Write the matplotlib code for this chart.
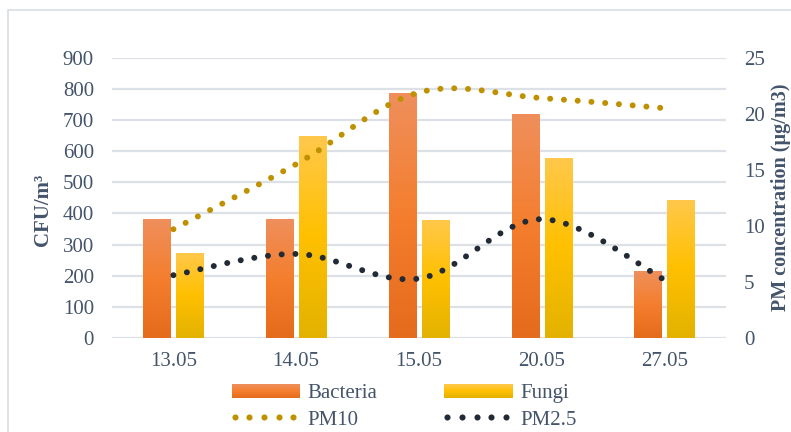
import numpy as np
import matplotlib
matplotlib.use("Agg")
import matplotlib.pyplot as plt
from matplotlib.colors import LinearSegmentedColormap
from matplotlib.patches import Rectangle, Circle
from matplotlib.lines import Line2D
from matplotlib.legend_handler import HandlerBase

# ---- data ----
dates = ["13.05", "14.05", "15.05", "20.05", "27.05"]
bacteria = [382, 382, 786, 720, 215]
fungi = [273, 649, 379, 579, 444]
pm10 = [9.7, 15.5, 21.9, 21.4, 20.5]
pm25 = [5.6, 7.5, 5.3, 10.6, 5.2]

TEXT = "#44546A"
GRID = "#DCE1E8"
FONT = "Liberation Serif"
plt.rcParams["font.family"] = [FONT, "DejaVu Serif"]

W, H = 791, 432
fig = plt.figure(figsize=(W / 100, H / 100), dpi=100)

# light frame around the chart area
fig.patches.append(Rectangle((8 / W, -0.1), 1.0, (H - 10) / H + 0.1,
                             transform=fig.transFigure, fill=False,
                             edgecolor="#D9DDE3", linewidth=1.2))

x0, x1, y_top, y_bot = 112, 725.7, 57.7, 338
ax = fig.add_axes([x0 / W, (H - y_bot) / H, (x1 - x0) / W, (y_bot - y_top) / H])
ax2 = ax.twinx()

bac_cmap = LinearSegmentedColormap.from_list(
    "bac", ["#E56B1C", "#F47E2E", "#EF8F5C"])
fun_cmap = LinearSegmentedColormap.from_list(
    "fun", ["#E3B200", "#FFC000", "#FFC84C"])

x = np.arange(len(dates))
bw, gap = 0.22, 0.049
bars_b = ax.bar(x - (bw + gap) / 2, bacteria, bw, color="none", linewidth=0)
bars_f = ax.bar(x + (bw + gap) / 2, fungi, bw, color="none", linewidth=0)

grad = np.linspace(0, 1, 256).reshape(-1, 1)
for bars, cmap in ((bars_b, bac_cmap), (bars_f, fun_cmap)):
    for p in bars:
        bx, by = p.get_x(), p.get_y()
        w, h = p.get_width(), p.get_height()
        im = ax.imshow(grad, extent=[bx, bx + w, by, by + h], origin="lower",
                       aspect="auto", cmap=cmap, zorder=2)
        im.set_clip_path(p)

ax.set_xlim(-0.5, len(dates) - 0.5)
ax.set_ylim(0, 900)
ax.set_yticks(range(0, 901, 100))
ax.set_xticks(x)
ax.set_xticklabels(dates)
ax.grid(axis="y", color=GRID, linewidth=1.6, zorder=0)
ax.set_axisbelow(True)
for sp in ax.spines.values():
    sp.set_visible(False)
for sp in ax2.spines.values():
    sp.set_visible(False)
ax.tick_params(axis="both", length=0, labelsize=15, labelcolor=TEXT)
ax.tick_params(axis="x", pad=10)
ax.tick_params(axis="y", pad=13)


def smooth(xs, ys, n=40):
    """Catmull-Rom style curve through the points (like a smoothed line)."""
    pts = np.column_stack([xs, ys]).astype(float)
    ext = np.vstack([pts[0], pts, pts[-1]])
    out = []
    for i in range(1, len(ext) - 2):
        p0, p1, p2, p3 = ext[i - 1], ext[i], ext[i + 1], ext[i + 2]
        c1 = p1 + (p2 - p0) / 6
        c2 = p2 - (p3 - p1) / 6
        t = np.linspace(0, 1, n)[:, None]
        seg = ((1 - t) ** 3) * p1 + 3 * ((1 - t) ** 2) * t * c1 \
            + 3 * (1 - t) * t ** 2 * c2 + t ** 3 * p2
        out.append(seg if i == 1 else seg[1:])
    c = np.vstack(out)
    return c[:, 0], c[:, 1]


dot = dict(linestyle=(0, (0.01, 2.3)), linewidth=4.3, dash_capstyle="round")
sx, sy = smooth(x, pm10)
ax2.plot(sx, sy, color="#BF9000", **dot, zorder=3)
sx, sy = smooth(x, pm25)
ax2.plot(sx, sy, color="#222A35", **dot, zorder=3)
ax2.set_ylim(0, 25)
ax2.set_yticks(range(0, 26, 5))
ax2.tick_params(axis="y", length=0, labelsize=15, labelcolor=TEXT, pad=13)

fig.text(43 / W, 1 - 210 / H, "CFU/m³", rotation=90, ha="center", va="center",
         fontsize=15, fontweight="bold", color=TEXT)
fig.text(781 / W, 1 - 197 / H, "PM concentration (µg/m3)", rotation=90,
         ha="center", va="center", fontsize=14.5, fontweight="bold", color=TEXT)


class GradientHandler(HandlerBase):
    """Legend key filled with a vertical colour gradient."""

    def __init__(self, cmap, n=24):
        super().__init__()
        self.cmap, self.n = cmap, n

    def create_artists(self, legend, orig_handle, xdescent, ydescent,
                       width, height, fontsize, trans):
        strips = []
        for i in range(self.n):
            strips.append(Rectangle(
                (-xdescent, -ydescent + height * i / self.n), width,
                height / self.n + 0.3, facecolor=self.cmap((i + 0.5) / self.n),
                edgecolor="none", transform=trans))
        return strips


class DotsHandler(HandlerBase):
    """Legend key of five round dots."""

    def create_artists(self, legend, orig_handle, xdescent, ydescent,
                       width, height, fontsize, trans):
        xs = -xdescent + 2.2 + np.arange(5) * 10.6
        yc = -ydescent + height / 2
        ln = Line2D(xs, np.full(5, yc), linestyle="none", marker="o",
                    markersize=4.4, markeredgewidth=0,
                    color=orig_handle.get_color(), transform=trans)
        return [ln]


h_bac = Rectangle((0, 0), 1, 1)
h_fun = Rectangle((0, 0), 1, 1)
h_pm10 = Line2D([], [], color="#BF9000")
h_pm25 = Line2D([], [], color="#222A35")
handles = [h_bac, h_pm10, h_fun, h_pm25]
labels = ["Bacteria", "PM10", "Fungi", "PM2.5"]
dh = DotsHandler()
leg = fig.legend(handles, labels, ncol=2, loc="center",
                 bbox_to_anchor=(404 / W, 1 - 407 / H), frameon=False,
                 fontsize=15, handlelength=3.3, handleheight=0.6,
                 handletextpad=0.35, columnspacing=3.2, labelspacing=0.35,
                 handler_map={h_bac: GradientHandler(bac_cmap),
                              h_fun: GradientHandler(fun_cmap),
                              h_pm10: dh, h_pm25: dh})
for t in leg.get_texts():
    t.set_color(TEXT)

fig.savefig("out.png", dpi=100)
